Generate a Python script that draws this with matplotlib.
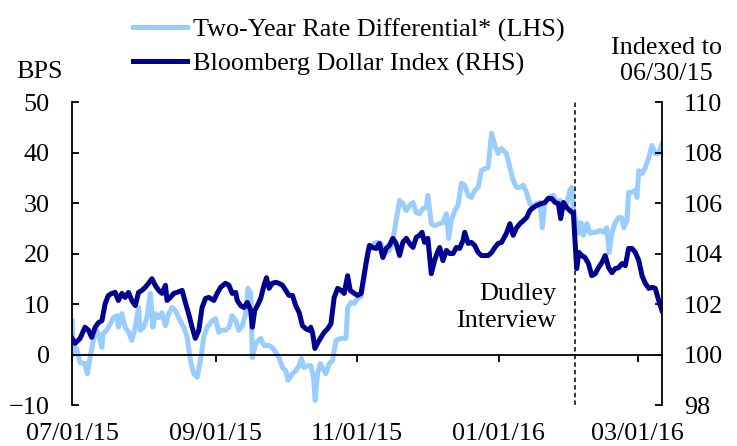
"""Two-year rate differential vs Bloomberg Dollar Index."""

import numpy as np
import matplotlib.pyplot as plt
import matplotlib.dates as mdates

plt.rcParams["font.family"] = ["Liberation Serif", "DejaVu Serif"]
plt.rcParams["font.size"] = 18.8

start = np.datetime64("2015-07-01")
event_date = np.datetime64("2016-02-03")
x_end = np.datetime64("2016-03-11T12")
tick_dates = ["2015-07-01", "2015-09-01", "2015-11-01", "2016-01-01", "2016-03-01"]

# Two-year rate differential (bps), days since 07/01/15
diff_days = [
    0.0, 0.6, 2.0, 3.5, 5.6, 6.6, 7.8, 9.2, 10.7, 11.8, 12.9, 13.5, 15.0, 16.5,
    17.9, 19.4, 20.0, 21.5, 22.9, 24.4, 25.8, 27.3, 28.7, 29.4, 30.9, 32.3, 33.8,
    34.9, 35.9, 37.4, 38.8, 40.3, 41.7, 43.2, 44.6, 46.0, 48.2, 49.7, 51.1, 52.5,
    54.0, 55.4, 56.8, 58.3, 60.5, 61.9, 63.3, 64.1, 66.2, 67.7, 69.1, 70.6, 72.0,
    73.5, 74.9, 75.9, 77.1, 77.8, 79.2, 81.4, 82.8, 85.0, 86.4, 87.9, 89.3, 90.8,
    92.2, 93.2, 95.1, 96.5, 98.0, 99.0, 100.1, 101.6, 103.0, 104.2, 104.9, 105.9,
    107.1, 108.1, 109.5, 111.0, 112.4, 113.9, 116.0, 118.2, 118.9, 120.3, 121.8,
    123.2, 124.7, 126.1, 127.6, 129.0, 130.4, 131.9, 133.3, 134.8, 136.9, 138.4,
    139.8, 141.3, 142.7, 144.2, 145.6, 147.1, 148.5, 149.9, 151.4, 152.8, 153.5,
    155.0, 156.4, 158.6, 160.0, 161.5, 162.5, 163.6, 165.1, 166.5, 168.0, 169.4,
    170.9, 172.3, 173.7, 175.2, 176.6, 178.1, 179.5, 181.0, 182.4, 183.8, 185.3,
    187.4, 188.9, 190.3, 191.8, 193.2, 194.7, 196.1, 197.5, 199.0, 200.4, 201.9,
    202.9, 204.0, 205.5, 207.7, 209.1, 210.5, 212.0, 213.4, 214.8, 215.6, 216.3,
    217.7, 218.5, 219.6, 220.6, 222.1, 223.5, 225.0, 226.4, 227.8, 229.3, 230.7,
    231.7, 232.9, 234.3, 235.8, 237.2, 238.0, 239.4, 240.1, 241.6, 243.0, 243.7,
    244.5, 245.9, 247.3, 248.8, 250.2, 251.6, 253.1, 254.5, 255.3,
]
diff_bps = [
    6.7, 0.0, 1.2, -1.6, -1.8, -3.8, -0.6, 2.8, 4.8, 3.4, 1.4, 4.2, 4.8, 6.1,
    7.3, 7.7, 5.4, 8.1, 5.4, 4.4, 2.8, 5.4, 9.3, 4.8, 5.4, 7.3, 12.1,
    5.4, 8.1, 7.3, 8.3, 5.7, 8.1, 9.3, 8.7, 7.3, 5.4, 3.4, -1.2, -3.8,
    -4.5, -1.2, 3.4, 5.4, 6.7, 7.1, 4.4, 4.8, 4.8, 5.4, 7.7, 6.7, 4.8,
    5.7, 8.1, 13.1, 12.1, -0.6, 2.2, 3.2, 1.8, 1.8, 1.4, 0.4, -0.6, -2.6,
    -3.2, -5.1, -3.8, -3.2, -2.2, -0.8, -2.6, -2.2, -2.2, -4.5, -9.1, -3.8,
    -1.8, -2.6, -3.8, -1.8, -1.2, 2.8, 3.2, 3.2, 9.3, 10.3, 10.1,
    11.1, 11.5, 15.2, 20.6, 21.0, 22.0, 22.2, 22.0, 20.0, 20.6, 22.6,
    26.5, 30.5, 29.9, 28.5, 29.5, 30.1, 28.1, 27.9, 28.9, 29.1, 31.5,
    25.9, 25.5, 25.9, 26.1, 27.9, 23.0, 26.5, 28.5, 29.5, 33.9, 33.5,
    31.5, 31.1, 32.5, 33.1, 36.4, 36.8, 37.0, 43.8, 41.4, 39.8, 40.8,
    39.8, 37.0, 34.5, 33.1, 33.1, 33.5, 32.1, 29.9, 29.1, 29.9, 30.1,
    25.1, 30.1, 31.1, 31.5, 30.1, 30.5, 29.5, 29.9, 32.5, 33.1, 28.9,
    25.9, 24.0, 26.1, 23.6, 25.9, 24.0, 24.2, 24.2, 24.6, 24.2, 25.1,
    20.2, 24.0, 26.1, 27.1, 27.1, 25.1, 26.5, 32.1, 32.1, 32.5, 31.1,
    36.4, 35.8, 37.0, 39.0, 41.4, 39.8, 39.8, 41.8, 42.4,
]

# Bloomberg Dollar Index, indexed to 06/30/15 = 100
dxy_days = [
    0.0, 1.3, 3.5, 5.6, 7.1, 8.5, 10.0, 11.4, 12.9, 14.3, 15.7, 17.2, 18.6, 20.0,
    21.5, 22.9, 24.4, 25.8, 27.3, 28.7, 30.2, 31.6, 33.0, 34.5, 35.9, 37.4, 38.8,
    40.3, 41.0, 42.4, 43.9, 45.3, 47.5, 48.9, 50.3, 51.8, 53.2, 54.7, 56.1, 57.6,
    59.0, 61.2, 62.6, 64.1, 66.2, 67.7, 69.1, 70.6, 71.3, 72.7, 74.2, 75.6, 77.1,
    77.8, 78.8, 80.0, 81.4, 82.8, 83.9, 85.0, 86.4, 87.9, 89.3, 90.8, 92.2, 93.6,
    95.1, 96.5, 98.0, 99.4, 100.9, 102.3, 103.0, 103.8, 104.8, 105.9, 107.4, 108.8,
    110.3, 111.7, 113.1, 114.6, 116.0, 117.4, 118.9, 120.0, 121.8, 123.2, 124.7,
    126.8, 128.3, 129.7, 131.2, 132.6, 134.1, 135.5, 136.9, 138.4, 139.8, 141.3,
    142.7, 144.2, 145.6, 147.1, 148.5, 149.9, 151.0, 152.1, 153.5, 155.0, 156.4,
    157.6, 158.6, 160.0, 161.5, 162.9, 164.4, 165.8, 167.2, 168.7, 169.4, 170.9,
    172.3, 173.7, 175.2, 176.6, 178.1, 179.5, 181.0, 182.4, 183.8, 185.3, 187.4,
    188.9, 190.3, 191.8, 193.2, 194.7, 196.1, 197.5, 199.0, 200.4, 202.6, 204.0,
    205.5, 206.9, 208.4, 209.8, 210.8, 212.0, 213.4, 214.8, 216.3, 217.3, 217.7,
    218.7, 219.9, 221.3, 222.8, 224.2, 225.7, 227.1, 228.6, 230.0, 231.5, 232.9,
    234.3, 235.8, 237.2, 238.7, 240.1, 241.6, 243.0, 244.5, 245.9, 247.3, 248.8,
    250.2, 251.6, 253.1, 254.5,
]
dxy_index = [
    100.64, 100.44, 100.64, 101.08, 100.96, 100.68, 101.08, 101.26, 101.34, 102.02,
    102.34, 102.42, 102.46, 102.14, 102.42, 102.26, 102.46, 102.14, 101.94, 102.46,
    102.54, 102.66, 102.82, 103.00, 102.74, 102.54, 102.42, 102.74, 102.14, 102.26,
    102.42, 102.46, 102.54, 102.06, 101.62, 101.08, 100.64, 100.96, 101.86, 102.22,
    102.26, 102.14, 102.42, 102.66, 102.82, 102.74, 102.42, 102.46, 102.14, 101.94,
    101.86, 102.06, 101.74, 101.08, 101.74, 101.94, 102.22, 102.74, 103.04, 102.62,
    102.82, 102.86, 102.82, 102.74, 102.54, 102.34, 102.34, 101.94, 101.66, 101.14,
    101.02, 100.96, 101.08, 100.84, 100.24, 100.44, 100.68, 100.88, 101.02, 101.22,
    102.26, 102.62, 102.54, 102.42, 103.12, 102.54, 102.42, 102.34, 102.42, 103.60,
    104.32, 104.24, 104.20, 104.40, 103.84, 104.20, 104.32, 104.60, 104.40, 103.92,
    104.44, 104.60, 104.40, 104.24, 104.64, 104.72, 104.84, 104.44, 104.60, 103.20,
    103.72, 104.04, 104.24, 103.72, 104.12, 104.00, 104.00, 104.24, 104.20, 104.52,
    104.84, 104.40, 104.44, 104.32, 104.04, 103.92, 103.92, 103.92, 104.04, 104.24,
    104.40, 104.44, 104.80, 105.18, 104.72, 105.02, 105.18, 105.30, 105.42, 105.70,
    105.82, 105.90, 105.98, 106.02, 106.18, 106.18, 106.02, 105.98, 105.38, 106.02,
    105.82, 105.70, 105.58, 104.00, 103.40, 104.04, 103.92, 103.84, 103.60, 103.12,
    103.20, 103.44, 103.64, 103.92, 103.44, 103.24, 103.40, 103.44, 103.60, 103.52,
    104.20, 104.20, 104.04, 103.72, 103.12, 102.82, 102.62, 102.66, 102.62, 102.14,
    101.74,
]

light_blue = "#99ccff"
navy = "#000091"

diff_dates = start + (np.array(diff_days) * 24 * 3600).astype("timedelta64[s]")
dxy_dates = start + (np.array(dxy_days) * 24 * 3600).astype("timedelta64[s]")

fig = plt.figure(figsize=(7.37, 4.46), dpi=100)
ax = fig.add_axes([0.0977, 0.0919, 0.8005, 0.6794])
ax2 = ax.twinx()

ax.plot(diff_dates, diff_bps, color=light_blue, lw=3.6,
        label="Two-Year Rate Differential* (LHS)")
ax2.plot(dxy_dates, dxy_index, color=navy, lw=3.6,
         label="Bloomberg Dollar Index (RHS)")

ax.set_xlim(start, x_end)
ax.set_ylim(-10, 50)
ax2.set_ylim(98, 110)
ax.set_yticks(np.arange(-10, 51, 10))
ax2.set_yticks(np.arange(98, 111, 2))

ax.set_xticks([np.datetime64(d) for d in tick_dates])
ax.xaxis.set_major_formatter(mdates.DateFormatter("%m/%d/%y"))

# spines: zero line as x axis, no box
ax.spines["bottom"].set_position(("data", 0))
ax.spines["top"].set_visible(False)
ax.spines["right"].set_visible(False)
for side in ["left", "top", "bottom"]:
    ax2.spines[side].set_visible(False)
for spine in [ax.spines["bottom"], ax.spines["left"], ax2.spines["right"]]:
    spine.set_linewidth(1.3)

ax.tick_params(axis="y", direction="in", length=5, width=1.3, pad=16)
ax.tick_params(axis="x", direction="out", length=5, width=1.3, pad=44)
ax2.tick_params(axis="y", direction="in", length=5, width=1.3, pad=16)

# Dudley interview marker
ax.axvline(event_date, color="black", lw=1.1, ls=(0, (3, 2)))
ax.text(event_date - np.timedelta64(8, "D"), 9.3, "Dudley\nInterview",
        ha="right", va="center", multialignment="right", linespacing=1.3)

fig.text(0.053, 0.839, "BPS", ha="center", va="center")
fig.text(0.904, 0.863, "Indexed to\n06/30/15", ha="center", va="center",
         linespacing=1.2)

handles = ax.get_lines()[:1] + ax2.get_lines()[:1]
fig.legend(handles, [h.get_label() for h in handles], loc="upper left",
           bbox_to_anchor=(0.18, 0.96), frameon=False, borderpad=0,
           borderaxespad=0, handlelength=2.1, handletextpad=0.2,
           labelspacing=0.4)

fig.savefig("out.png", dpi=100, facecolor="white")
plt.close(fig)
